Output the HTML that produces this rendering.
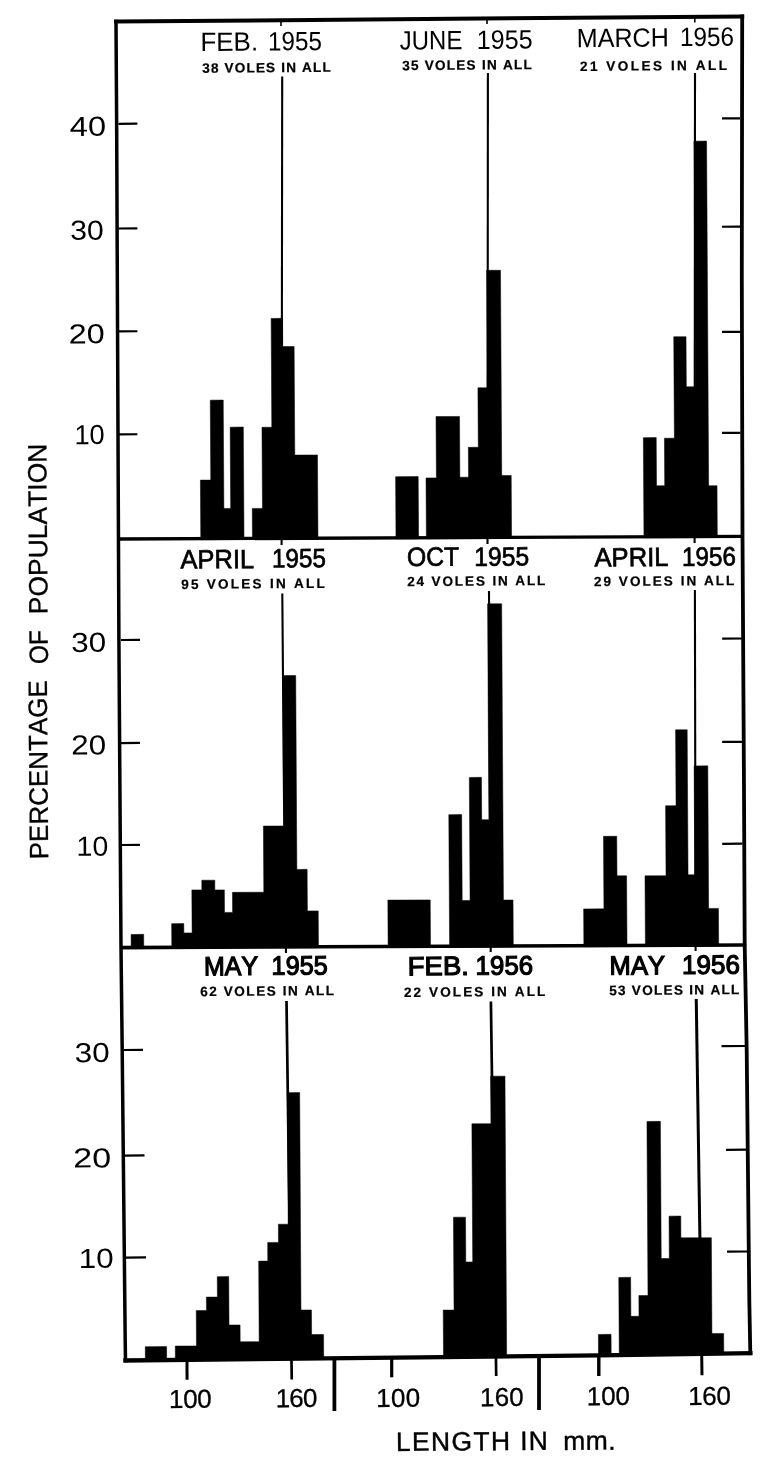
<!DOCTYPE html>
<html lang="en">
<head>
<meta charset="utf-8">
<title>Vole length histograms</title>
<style>
html,body{margin:0;padding:0;background:#fff;}
body{width:764px;height:1463px;overflow:hidden;}
svg{display:block;}
text{font-kerning:none;}
</style>
</head>
<body>
<svg width="764" height="1463" viewBox="0 0 764 1463">
<rect width="764" height="1463" fill="#fff"/>
<g fill="#000" stroke="#000" stroke-width="0.5" stroke-linejoin="miter">
<path d="M200.77,539.66 L200.41,480.12 L210.76,480.08 L210.28,400.13 L223.24,400.07 L223.89,508.42 L230.67,508.38 L230.18,427.13 L243.33,427.07 L244.01,539.48Z"/>
<path d="M252.44,539.44 L252.25,508.42 L262.46,508.38 L261.98,427.32 L271.79,427.28 L271.14,318.43 L282.56,318.37 L282.73,346.53 L294.14,346.47 L294.79,455.05 L317.47,454.95 L317.98,539.17Z"/>
<path d="M395.98,538.84 L395.61,476.65 L418.21,476.55 L418.58,538.75Z"/>
<path d="M426.37,538.72 L426.01,477.92 L436.38,477.88 L436.01,416.55 L459.51,416.45 L459.87,477.22 L468.53,477.18 L468.36,447.32 L478.27,447.28 L477.91,387.82 L487.33,387.78 L486.62,270.33 L500.49,270.27 L501.72,475.52 L511.21,475.48 L511.58,538.36Z"/>
<path d="M643.95,537.82 L643.35,437.63 L656.23,437.57 L656.52,485.72 L664.71,485.68 L664.43,438.22 L674.36,438.18 L673.75,336.73 L686.02,336.67 L686.33,386.82 L695.41,386.78 L693.93,141.13 L706.58,141.07 L708.65,485.72 L717.02,485.68 L717.33,537.51Z"/>
<path d="M131.16,948.55 L131.08,934.43 L143.68,934.37 L143.76,948.50Z"/>
<path d="M171.81,948.39 L171.66,923.63 L183.79,923.57 L183.84,932.92 L192.09,932.88 L191.84,889.92 L201.84,889.88 L201.79,880.23 L214.79,880.17 L214.84,889.92 L224.37,889.88 L224.50,912.42 L232.59,912.38 L232.47,892.37 L263.80,892.23 L263.40,826.04 L283.78,825.96 L282.87,675.53 L295.71,675.47 L296.87,869.43 L307.14,869.37 L307.39,910.92 L318.24,910.88 L318.47,947.78Z"/>
<path d="M388.11,947.49 L387.83,900.10 L430.23,899.90 L430.51,947.31Z"/>
<path d="M449.60,947.23 L448.80,814.63 L461.67,814.57 L462.19,900.52 L470.05,900.48 L469.32,777.43 L481.44,777.37 L481.69,819.71 L488.87,819.69 L487.58,603.83 L501.66,603.77 L503.43,900.02 L513.03,899.98 L513.31,946.97Z"/>
<path d="M583.87,946.67 L583.64,908.94 L603.93,908.86 L603.49,836.33 L616.74,836.27 L616.98,875.82 L626.59,875.78 L627.02,946.50Z"/>
<path d="M645.42,946.42 L644.99,875.85 L666.02,875.75 L665.59,805.72 L676.04,805.68 L675.59,729.83 L687.18,729.77 L688.05,874.82 L694.79,874.78 L694.14,765.93 L707.79,765.87 L708.64,908.42 L718.44,908.38 L718.67,946.12Z"/>
<path d="M145.37,1361.29 L145.28,1346.65 L166.58,1346.55 L166.67,1361.07Z"/>
<path d="M175.37,1360.98 L175.28,1346.05 L196.46,1345.95 L196.25,1310.62 L206.46,1310.58 L206.38,1297.12 L217.39,1297.08 L217.27,1276.63 L228.73,1276.57 L229.02,1325.03 L240.07,1324.97 L240.18,1341.74 L259.16,1341.66 L258.68,1261.12 L267.78,1261.08 L267.67,1242.42 L278.48,1242.38 L278.37,1224.22 L288.19,1224.18 L287.40,1092.63 L299.67,1092.57 L300.98,1310.03 L311.46,1309.97 L311.61,1334.53 L323.56,1334.47 L323.71,1359.41Z"/>
<path d="M443.52,1358.14 L443.23,1310.12 L454.02,1310.08 L453.46,1217.23 L465.53,1217.17 L465.80,1262.01 L472.72,1261.99 L471.89,1123.74 L490.91,1123.66 L490.63,1076.23 L504.98,1076.17 L506.67,1357.45Z"/>
<path d="M598.50,1356.42 L598.37,1334.43 L611.07,1334.37 L611.20,1356.24Z"/>
<path d="M619.25,1356.12 L618.78,1277.43 L630.64,1277.37 L630.88,1316.32 L638.99,1316.28 L638.87,1295.52 L647.98,1295.48 L646.94,1121.43 L660.39,1121.37 L661.22,1258.52 L669.29,1258.48 L669.04,1216.13 L680.77,1216.07 L680.90,1237.87 L711.36,1237.73 L711.93,1333.53 L723.67,1333.47 L723.79,1354.59Z"/>
</g>
<g fill="none" stroke="#000" stroke-linecap="square" stroke-linejoin="miter">
<path d="M116.00,21.50 L742.20,16.50" stroke-width="4.0"/>
<path d="M117.50,539.00 L743.60,536.40" stroke-width="3.4" stroke-linecap="butt"/>
<path d="M120.00,947.60 L746.20,945.00" stroke-width="3.6" stroke-linecap="butt"/>
<path d="M125.50,1360.50 L420.00,1357.40 L600.00,1355.40 L750.30,1353.20" stroke-width="4.4"/>
<path d="M116.00,21.50 L116.65,124.00 L118.90,640.00 L121.00,947.00 L122.20,1050.00 L125.20,1340.00 L125.50,1360.50" stroke-width="3.5"/>
<path d="M742.20,16.50 L741.80,275.00 L742.50,535.00 L744.00,790.00 L744.70,945.00 L746.70,1050.00 L749.30,1300.00 L750.30,1353.20" stroke-width="3.8"/>
</g>
<g fill="none" stroke="#000" stroke-linecap="butt">
<path d="M282.20,76.50 L281.60,545.00" stroke-width="2.1"/>
<path d="M487.90,73.00 L487.50,544.00" stroke-width="2.1"/>
<path d="M695.00,73.00 L694.60,543.00" stroke-width="2.1"/>
<path d="M282.30,593.50 L284.00,800.00 L286.00,953.00" stroke-width="2.1"/>
<path d="M489.00,591.00 L490.70,952.00" stroke-width="2.1"/>
<path d="M694.90,590.00 L695.60,951.00" stroke-width="2.1"/>
<path d="M286.50,1001.00 L291.75,1379.50" stroke-width="2.7"/>
<path d="M490.90,1001.60 L496.20,1376.00" stroke-width="2.7"/>
<path d="M696.25,999.00 L702.00,1375.30" stroke-width="3.0"/>
<path d="M187.00,1360.00 L187.05,1379.80" stroke-width="3.0"/>
<path d="M391.70,1358.00 L391.70,1377.30" stroke-width="3.2"/>
<path d="M598.80,1356.00 L598.80,1376.00" stroke-width="3.4"/>
<path d="M334.40,1358.00 L334.40,1411.00" stroke-width="3.8"/>
<path d="M539.00,1356.00 L539.00,1410.00" stroke-width="3.8"/>
<path d="M281.00,21.00 L281.00,26.00" stroke-width="1.6"/>
<path d="M487.00,19.00 L487.00,24.00" stroke-width="1.6"/>
<path d="M694.80,17.00 L694.80,22.50" stroke-width="1.6"/>
<path d="M118.5,123.8 L137.4,123.64999999999999" stroke-width="2.2"/>
<path d="M118.5,228.5 L137.4,228.35" stroke-width="2.2"/>
<path d="M118.5,331.4 L137.4,331.25" stroke-width="2.2"/>
<path d="M118.5,434.4 L137.4,434.25" stroke-width="2.2"/>
<path d="M121,640.0 L140,639.85" stroke-width="2.2"/>
<path d="M121,743.1 L140,742.95" stroke-width="2.2"/>
<path d="M121,845.0 L140,844.85" stroke-width="2.2"/>
<path d="M123.4,1050 L143,1049.85" stroke-width="2.2"/>
<path d="M124.5,1155.6 L144.5,1155.4499999999998" stroke-width="2.2"/>
<path d="M126,1257.6 L146,1257.4499999999998" stroke-width="2.2"/>
<path d="M722,118.45 L740,118.3" stroke-width="2.2"/>
<path d="M722,226.75 L740,226.6" stroke-width="2.2"/>
<path d="M722,331.95 L740,331.8" stroke-width="2.2"/>
<path d="M722,432.95 L740.5,432.8" stroke-width="2.2"/>
<path d="M722.2,638.65 L742.5,638.5" stroke-width="2.2"/>
<path d="M722.2,741.9499999999999 L742.5,741.8" stroke-width="2.2"/>
<path d="M722.2,843.85 L742.5,843.7" stroke-width="2.2"/>
<path d="M721.5,1046.15 L745.5,1046.0" stroke-width="2.2"/>
<path d="M726,1149.8500000000001 L747,1149.7" stroke-width="2.2"/>
<path d="M727,1251.65 L748,1251.5" stroke-width="2.2"/>
</g>
<g font-family="'Liberation Sans', Arial, Helvetica, sans-serif" style="white-space:pre">
<text font-size="26.5" fill="#000" transform="rotate(-0.45 200.40 51.00)"><tspan x="200.40" y="51.00" textLength="57.80" lengthAdjust="spacingAndGlyphs">FEB.</tspan> <tspan x="268.00" y="50.99" textLength="54.00" lengthAdjust="spacingAndGlyphs">1955</tspan></text>
<text font-size="26.5" fill="#000" transform="rotate(-0.45 399.80 49.60)"><tspan x="399.80" y="49.60" textLength="62.60" lengthAdjust="spacingAndGlyphs">JUNE</tspan> <tspan x="476.80" y="49.50" textLength="55.80" lengthAdjust="spacingAndGlyphs">1955</tspan></text>
<text font-size="26.5" fill="#000" transform="rotate(-0.45 576.80 47.20)"><tspan x="576.80" y="47.20" textLength="92.10" lengthAdjust="spacingAndGlyphs">MARCH</tspan> <tspan x="679.90" y="46.93" textLength="54.10" lengthAdjust="spacingAndGlyphs">1956</tspan></text>
<text font-size="26.5" fill="#000" stroke="#000" stroke-width="0.7" transform="rotate(-0.45 180.60 568.60)"><tspan x="180.60" y="568.60" textLength="73.60" lengthAdjust="spacingAndGlyphs">APRIL</tspan> <tspan x="272.00" y="568.22" textLength="54.00" lengthAdjust="spacingAndGlyphs">1955</tspan></text>
<text font-size="26.5" fill="#000" stroke="#000" stroke-width="0.7" transform="rotate(-0.45 407.00 566.00)"><tspan x="407.00" y="566.00" textLength="52.20" lengthAdjust="spacingAndGlyphs">OCT</tspan> <tspan x="474.20" y="566.47" textLength="55.00" lengthAdjust="spacingAndGlyphs">1955</tspan></text>
<text font-size="26.5" fill="#000" stroke="#000" stroke-width="0.7" transform="rotate(-0.45 594.40 566.60)"><tspan x="594.40" y="566.60" textLength="74.20" lengthAdjust="spacingAndGlyphs">APRIL</tspan> <tspan x="682.00" y="566.58" textLength="54.00" lengthAdjust="spacingAndGlyphs">1956</tspan></text>
<text font-size="26.5" fill="#000" stroke="#000" stroke-width="1.2" transform="rotate(-0.45 204.00 975.40)"><tspan x="204.00" y="975.40" textLength="54.20" lengthAdjust="spacingAndGlyphs">MAY</tspan> <tspan x="271.60" y="975.29" textLength="56.20" lengthAdjust="spacingAndGlyphs">1955</tspan></text>
<text font-size="26.5" fill="#000" stroke="#000" stroke-width="1.2" transform="rotate(-0.45 407.80 975.40)"><tspan x="407.80" y="975.40" textLength="61.20" lengthAdjust="spacingAndGlyphs">FEB.</tspan> <tspan x="475.60" y="975.34" textLength="57.60" lengthAdjust="spacingAndGlyphs">1956</tspan></text>
<text font-size="26.5" fill="#000" stroke="#000" stroke-width="1.2" transform="rotate(-0.45 609.60 974.80)"><tspan x="609.60" y="974.80" textLength="55.40" lengthAdjust="spacingAndGlyphs">MAY</tspan> <tspan x="682.00" y="974.64" textLength="58.00" lengthAdjust="spacingAndGlyphs">1956</tspan></text>
<text x="202.20" y="72.80" font-size="13.6" font-weight="700" textLength="128.60" lengthAdjust="spacing" transform="rotate(-0.45 202.20 72.80)" fill="#000" stroke="#000" stroke-width="0.22">38 VOLES IN ALL</text>
<text x="402.20" y="70.20" font-size="13.6" font-weight="700" textLength="129.60" lengthAdjust="spacing" transform="rotate(-0.45 402.20 70.20)" fill="#000" stroke="#000" stroke-width="0.22">35 VOLES IN ALL</text>
<text x="580.00" y="71.00" font-size="13.6" font-weight="700" textLength="147.00" lengthAdjust="spacing" transform="rotate(-0.45 580.00 71.00)" fill="#000" stroke="#000" stroke-width="0.22">21 VOLES IN ALL</text>
<text x="181.20" y="589.00" font-size="13.6" font-weight="700" textLength="143.60" lengthAdjust="spacing" transform="rotate(-0.45 181.20 589.00)" fill="#000" stroke="#000" stroke-width="0.22">95 VOLES IN ALL</text>
<text x="407.20" y="586.20" font-size="13.6" font-weight="700" textLength="138.20" lengthAdjust="spacing" transform="rotate(-0.45 407.20 586.20)" fill="#000" stroke="#000" stroke-width="0.22">24 VOLES IN ALL</text>
<text x="594.00" y="586.20" font-size="13.6" font-weight="700" textLength="140.40" lengthAdjust="spacing" transform="rotate(-0.45 594.00 586.20)" fill="#000" stroke="#000" stroke-width="0.22">29 VOLES IN ALL</text>
<text x="200.20" y="996.20" font-size="13.6" font-weight="700" textLength="134.00" lengthAdjust="spacing" transform="rotate(-0.45 200.20 996.20)" fill="#000" stroke="#000" stroke-width="0.22">62 VOLES IN ALL</text>
<text x="404.00" y="997.00" font-size="13.6" font-weight="700" textLength="141.40" lengthAdjust="spacing" transform="rotate(-0.45 404.00 997.00)" fill="#000" stroke="#000" stroke-width="0.22">22 VOLES IN ALL</text>
<text x="609.20" y="995.20" font-size="13.6" font-weight="700" textLength="130.20" lengthAdjust="spacing" transform="rotate(-0.45 609.20 995.20)" fill="#000" stroke="#000" stroke-width="0.22">53 VOLES IN ALL</text>
<text x="69.80" y="136.00" font-size="27.5" font-weight="400" textLength="36.40" lengthAdjust="spacingAndGlyphs" transform="rotate(-0.45 69.80 136.00)" fill="#000">40</text>
<text x="70.20" y="239.80" font-size="27.5" font-weight="400" textLength="33.60" lengthAdjust="spacingAndGlyphs" transform="rotate(-0.45 70.20 239.80)" fill="#000">30</text>
<text x="68.80" y="343.40" font-size="27.5" font-weight="400" textLength="36.00" lengthAdjust="spacingAndGlyphs" transform="rotate(-0.45 68.80 343.40)" fill="#000">20</text>
<text x="74.40" y="444.20" font-size="27.5" font-weight="400" textLength="30.40" lengthAdjust="spacingAndGlyphs" transform="rotate(-0.45 74.40 444.20)" fill="#000">10</text>
<text x="71.20" y="652.00" font-size="27.5" font-weight="400" textLength="35.00" lengthAdjust="spacingAndGlyphs" transform="rotate(-0.45 71.20 652.00)" fill="#000">30</text>
<text x="71.20" y="754.60" font-size="27.5" font-weight="400" textLength="35.00" lengthAdjust="spacingAndGlyphs" transform="rotate(-0.45 71.20 754.60)" fill="#000">20</text>
<text x="76.60" y="855.80" font-size="27.5" font-weight="400" textLength="31.80" lengthAdjust="spacingAndGlyphs" transform="rotate(-0.45 76.60 855.80)" fill="#000">10</text>
<text x="74.80" y="1062.20" font-size="27.5" font-weight="400" textLength="35.00" lengthAdjust="spacingAndGlyphs" transform="rotate(-0.45 74.80 1062.20)" fill="#000">30</text>
<text x="73.20" y="1167.60" font-size="27.5" font-weight="400" textLength="38.00" lengthAdjust="spacingAndGlyphs" transform="rotate(-0.45 73.20 1167.60)" fill="#000">20</text>
<text x="78.80" y="1268.00" font-size="27.5" font-weight="400" textLength="35.00" lengthAdjust="spacingAndGlyphs" transform="rotate(-0.45 78.80 1268.00)" fill="#000">10</text>
<text x="169.00" y="1408.00" font-size="26" font-weight="400" textLength="42.80" lengthAdjust="spacing" transform="rotate(-0.45 169.00 1408.00)" fill="#000" stroke="#000" stroke-width="0.3">100</text>
<text x="275.80" y="1407.20" font-size="26" font-weight="400" textLength="41.60" lengthAdjust="spacing" transform="rotate(-0.45 275.80 1407.20)" fill="#000" stroke="#000" stroke-width="0.3">160</text>
<text x="376.20" y="1407.00" font-size="26" font-weight="400" textLength="44.00" lengthAdjust="spacing" transform="rotate(-0.45 376.20 1407.00)" fill="#000" stroke="#000" stroke-width="0.3">100</text>
<text x="480.00" y="1406.20" font-size="26" font-weight="400" textLength="43.80" lengthAdjust="spacing" transform="rotate(-0.45 480.00 1406.20)" fill="#000" stroke="#000" stroke-width="0.3">160</text>
<text x="586.80" y="1405.20" font-size="26" font-weight="400" textLength="43.20" lengthAdjust="spacing" transform="rotate(-0.45 586.80 1405.20)" fill="#000" stroke="#000" stroke-width="0.3">100</text>
<text x="688.20" y="1405.00" font-size="26" font-weight="400" textLength="42.80" lengthAdjust="spacing" transform="rotate(-0.45 688.20 1405.00)" fill="#000" stroke="#000" stroke-width="0.3">160</text>
<text x="396.00" y="1451.00" font-size="26.5" font-weight="400" textLength="152.00" lengthAdjust="spacing" transform="rotate(-0.45 396.00 1451.00)" fill="#000" stroke="#000" stroke-width="0.4">LENGTH IN</text>
<text x="563.20" y="1450.00" font-size="26.5" font-weight="400" textLength="52.40" lengthAdjust="spacing" transform="rotate(-0.45 563.20 1450.00)" fill="#000" stroke="#000" stroke-width="0.4">mm.</text>
<text x="48.20" y="859.20" font-size="26.5" textLength="179.00" lengthAdjust="spacingAndGlyphs" transform="rotate(-90.45 48.20 859.20)" fill="#000" stroke="#000" stroke-width="0.3">PERCENTAGE</text>
<text x="48.00" y="664.00" font-size="26.5" textLength="34.00" lengthAdjust="spacingAndGlyphs" transform="rotate(-90.45 48.00 664.00)" fill="#000" stroke="#000" stroke-width="0.3">OF</text>
<text x="47.60" y="614.20" font-size="26.5" textLength="170.60" lengthAdjust="spacingAndGlyphs" transform="rotate(-90.45 47.60 614.20)" fill="#000" stroke="#000" stroke-width="0.3">POPULATION</text>
</g>
</svg>
</body>
</html>
